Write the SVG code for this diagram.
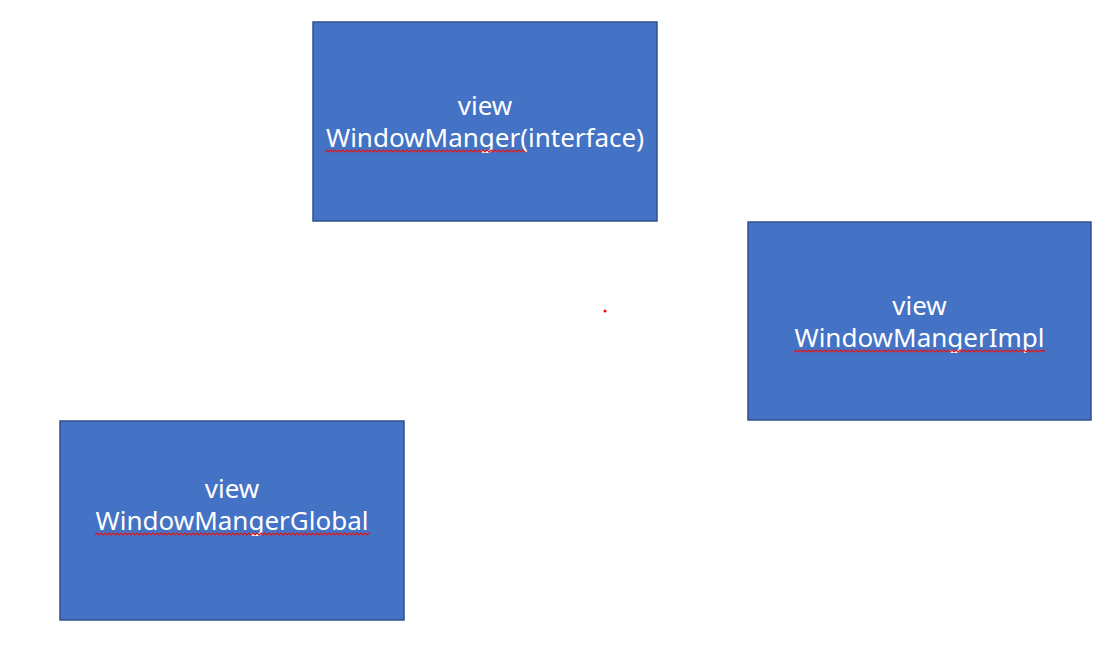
<svg xmlns="http://www.w3.org/2000/svg" width="1111" height="664" viewBox="0 0 1111 664">
<style>
.box{fill:#4472C4;stroke:#2F528F;stroke-width:1.5}
.lbl{font-family:"Noto Sans","Open Sans","Liberation Sans",sans-serif;font-size:26px;fill:#FFFFFF;text-anchor:middle}
.sq{fill:none;stroke:#E01818;stroke-width:1.1}
</style>
<defs>
<path id="wv" class="sq" d="M0 2l2-2l2 2l2-2l2 2l2-2l2 2l2-2l2 2l2-2l2 2l2-2l2 2l2-2l2 2l2-2l2 2l2-2l2 2l2-2l2 2l2-2l2 2l2-2l2 2l2-2l2 2l2-2l2 2l2-2l2 2l2-2l2 2l2-2l2 2l2-2l2 2l2-2l2 2l2-2l2 2l2-2l2 2l2-2l2 2l2-2l2 2l2-2l2 2l2-2l2 2l2-2l2 2l2-2l2 2l2-2l2 2l2-2l2 2l2-2l2 2l2-2l2 2l2-2l2 2l2-2l2 2l2-2l2 2l2-2l2 2l2-2l2 2l2-2l2 2l2-2l2 2l2-2l2 2l2-2l2 2l2-2l2 2l2-2l2 2l2-2l2 2l2-2l2 2l2-2l2 2l2-2l2 2l2-2l2 2l2-2l2 2l2-2l2 2l2-2l2 2l2-2l2 2l2-2l2 2l2-2l2 2l2-2l2 2l2-2l2 2l2-2l2 2l2-2l2 2l2-2l2 2l2-2l2 2l2-2l2 2l2-2l2 2l2-2l2 2l2-2l2 2l2-2l2 2l2-2l2 2l2-2l2 2l2-2l2 2l2-2l2 2l2-2l2 2l2-2l2 2l2-2l2 2l2-2l2 2l2-2l2 2l2-2l2 2l2-2l2 2l2-2l2 2l2-2l2 2l2-2l2 2l2-2l2 2l2-2l2 2l2-2l2 2l2-2l2 2l2-2l2 2l2-2l2 2l2-2l2 2l2-2l2 2l2-2l2 2l2-2l2 2l2-2l2 2l2-2l2 2l2-2l2 2l2-2l2 2l2-2l2 2l2-2l2 2l2-2l2 2l2-2l2 2l2-2l2 2l2-2l2 2l2-2l2 2l2-2l2 2l2-2l2 2l2-2l2 2l2-2l2 2l2-2l2 2l2-2l2 2l2-2l2 2l2-2l2 2l2-2l2 2l2-2l2 2l2-2l2 2l2-2l2 2l2-2l2 2l2-2l2 2l2-2l2 2l2-2l2 2"/>
<clipPath id="c1"><rect x="325" y="146" width="200" height="10"/></clipPath>
<clipPath id="c2"><rect x="794" y="346" width="251" height="10"/></clipPath>
<clipPath id="c3"><rect x="95" y="529" width="275" height="10"/></clipPath>
</defs>
<rect width="1111" height="664" fill="#FFFFFF"/>
<g id="node-windowmanager">
<rect class="box" x="313" y="22" width="344" height="199"/>
<text class="lbl" x="485" y="115">view</text>
<text class="lbl" x="485" y="147">WindowManger(interface)</text>
<g clip-path="url(#c1)"><use href="#wv" x="325" y="150"/></g>
</g>
<g id="node-windowmanagerimpl">
<rect class="box" x="748" y="222" width="343" height="198"/>
<text class="lbl" x="919.5" y="315">view</text>
<text class="lbl" x="919.5" y="347">WindowMangerImpl</text>
<g clip-path="url(#c2)"><use href="#wv" x="794" y="350"/></g>
</g>
<g id="node-windowmanagerglobal">
<rect class="box" x="60" y="421" width="344" height="199"/>
<text class="lbl" x="232" y="498">view</text>
<text class="lbl" x="232" y="530">WindowMangerGlobal</text>
<g clip-path="url(#c3)"><use href="#wv" x="95" y="533"/></g>
</g>
<g id="connectors"></g>
<circle cx="605" cy="311" r="1.5" fill="#FF0000"/>
</svg>
